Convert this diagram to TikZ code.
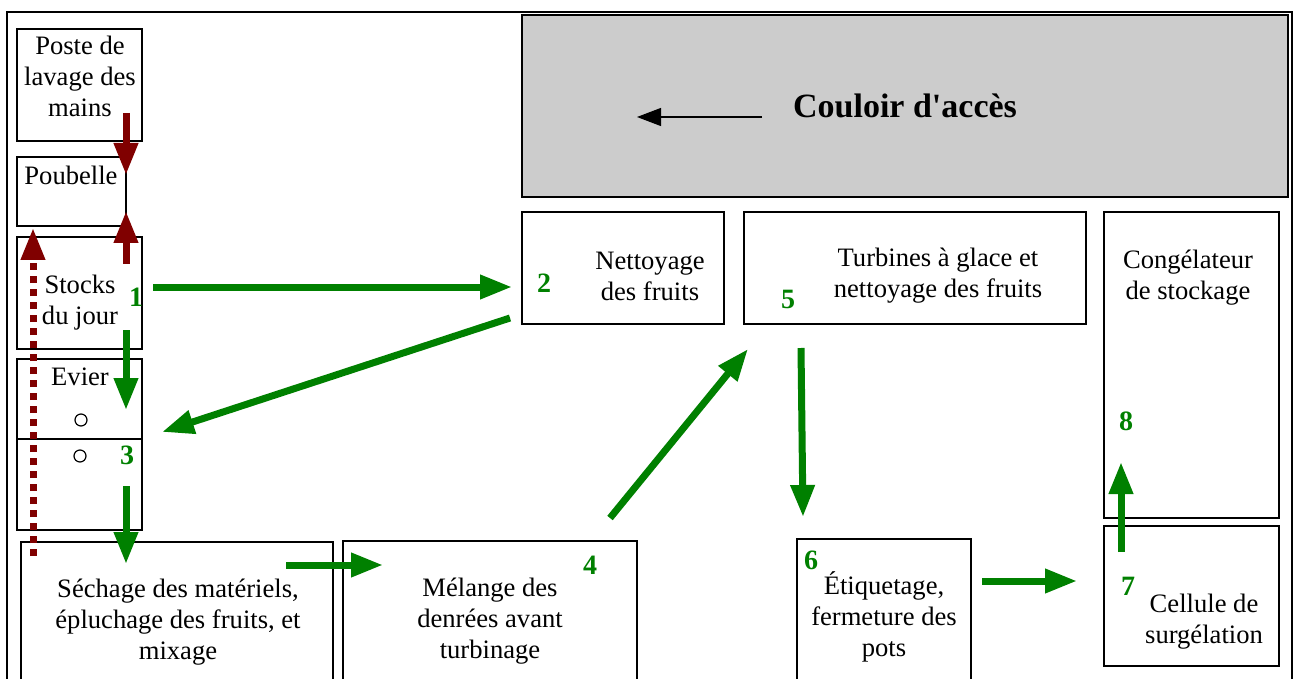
\documentclass[tikz,border=0pt]{standalone}
\usepackage{fontspec}
\setmainfont{Liberation Serif}
\usetikzlibrary{arrows.meta}
\definecolor{flow}{HTML}{008000}
\definecolor{waste}{HTML}{800000}
\definecolor{corridor}{HTML}{CCCCCC}

\begin{document}
\begin{tikzpicture}[x=0.5pt,y=-0.5pt,
 font=\fontsize{13.3}{15.5}\selectfont,
 room/.style={draw=black,line width=0.6pt},
 roomtext/.style={align=center,inner sep=0pt},
 stepnum/.style={text=flow,inner sep=0pt,font=\fontsize{14}{16}\selectfont\bfseries},
 flowarrow/.style={draw=flow,line width=3.5pt,-{Triangle[length=16pt,width=11.5pt]}},
 wastearrow/.style={draw=waste,line width=3.5pt,-{Triangle[length=16pt,width=11.5pt]}}]
\path[use as bounding box] (0,0) rectangle (1295,679);
% outer wall, open at the bottom
\draw[room] (7,679)--(7,12)--(1292,12)--(1292,679);
% corridor
\draw[room,fill=corridor] (522,15) rectangle (1288,197);
\node[font=\fontsize{17}{19}\selectfont\bfseries,inner sep=0pt] (couloir) at (905,106) {Couloir d\textquotesingle accès};
\draw[line width=0.6pt,-{Triangle[length=12pt,width=9pt]}] (762,117)--(637,117);
% rooms on the left
\draw[room] (17,29) rectangle (142,141);
\draw[room] (17,157) rectangle (126,226);
\draw[room] (17,237) rectangle (142,349);
\draw[room] (17,359) rectangle (142,530);
\draw[room] (17,439)--(142,439);
\draw[line width=0.6pt] (81,420) circle (6);
\draw[line width=0.6pt] (80,456) circle (6);
\node[roomtext] (lavage) at (80,76) {Poste de\\lavage des\\mains};
\node[roomtext] (poubelle) at (71,175) {Poubelle};
\node[roomtext] (stocks) at (80,303) {Stocks\\du jour};
\node[roomtext] (evier) at (80,377) {Evier};
% rooms along the bottom, cut by the page edge
\draw[room] (21,679)--(21,542)--(333,542)--(333,679);
\draw[room] (343,679)--(343,541)--(637,541)--(637,679);
\draw[room] (797,679)--(797,539)--(971,539)--(971,679);
\draw[room] (1104,526) rectangle (1279,666);
\node[roomtext] (sechage) at (178,622) {Séchage des matériels,\\épluchage des fruits, et\\mixage};
\node[roomtext] (melange) at (490,621) {Mélange des\\denrées avant\\turbinage};
\node[roomtext] (etiquetage) at (884,617) {Étiquetage,\\fermeture des\\pots};
\node[roomtext] (cellule) at (1204,622) {Cellule de\\surgélation};
% rooms along the corridor
\draw[room] (522,212) rectangle (724,324);
\draw[room] (744,212) rectangle (1086,324);
\draw[room] (1104,212) rectangle (1279,518);
\node[roomtext] (nettoyage) at (650,276) {Nettoyage\\des fruits};
\node[roomtext] (turbines) at (938,276) {Turbines à glace et\\nettoyage des fruits};
\node[roomtext] (congelateur) at (1188,278) {Congélateur\\de stockage};
% steps
\node[stepnum] (n1) at (136,297) {1};
\node[stepnum] (n2) at (544,283) {2};
\node[stepnum] (n3) at (127,455) {3};
\node[stepnum] (n4) at (590,565) {4};
\node[stepnum] (n5) at (788,299) {5};
\node[stepnum] (n6) at (811,560) {6};
\node[stepnum] (n7) at (1128,586) {7};
\node[stepnum] (n8) at (1126,421) {8};
% product flow
\draw[flowarrow] (153,287)--(512,287);
\draw[flowarrow] (510,318)--(162,432);
\draw[flowarrow] (126,330)--(126,410);
\draw[flowarrow] (126,486)--(126,564);
\draw[flowarrow] (286,565)--(383,565);
\draw[flowarrow] (610,518)--(748,349);
\draw[flowarrow] (801,348)--(803,517);
\draw[flowarrow] (982,581)--(1077,581);
\draw[flowarrow] (1121,552)--(1121,462);
% waste flow
\draw[wastearrow] (126,113)--(126,175);
\draw[wastearrow] (126,264)--(126,211);
\draw[wastearrow,dash pattern=on 3.5pt off 3pt] (33,556)--(33,228);
\end{tikzpicture}
\end{document}
